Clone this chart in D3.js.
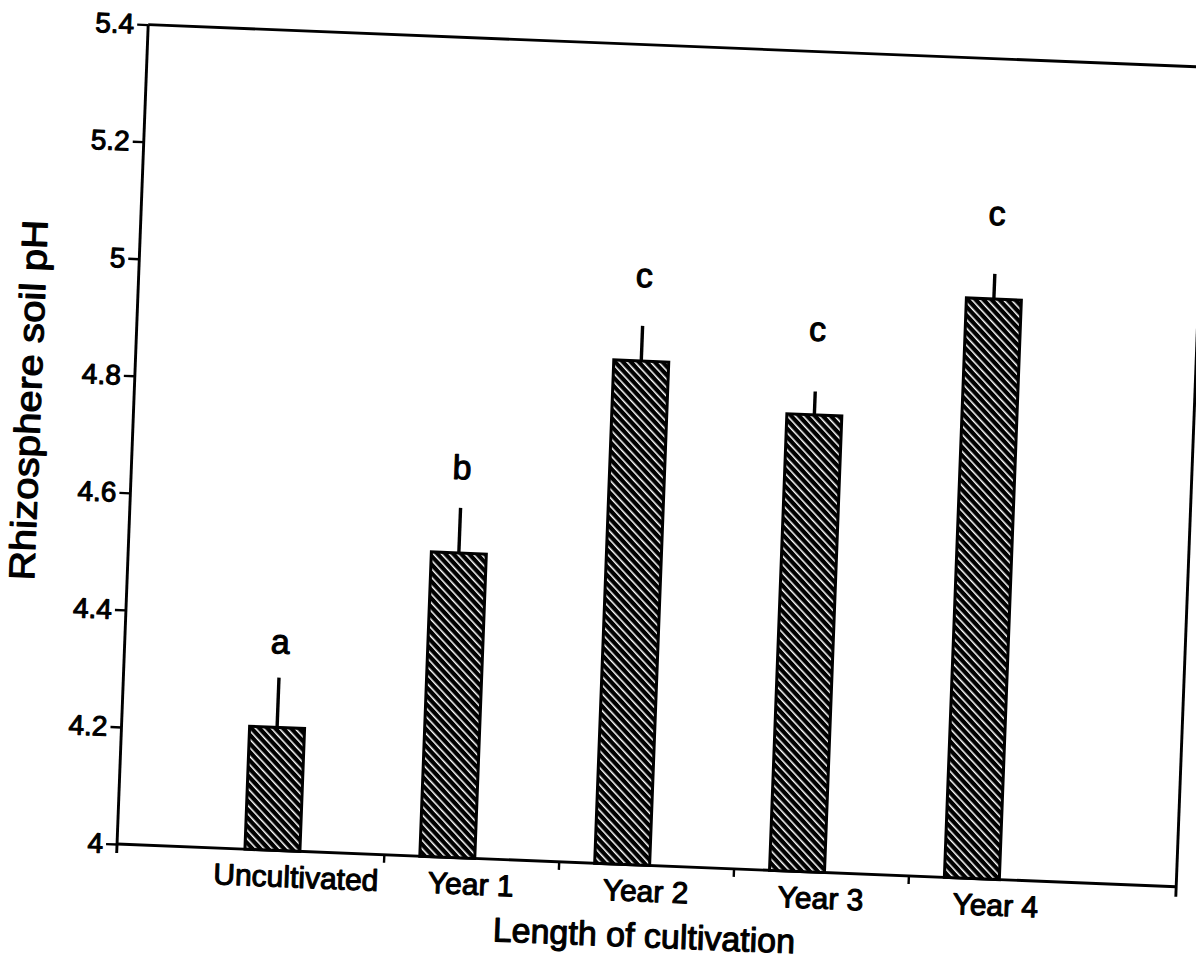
<!DOCTYPE html>
<html>
<head>
<meta charset="utf-8">
<script src="https://cdn.jsdelivr.net/npm/d3@7"></script>
<style>
  body { margin: 0; background: #fff; }
  svg { display: block; }
  text { font-family: "Liberation Sans", Arial, Helvetica, sans-serif; fill: #000; }
</style>
</head>
<body>
<svg id="chart" width="1196" height="962"></svg>
<script>
// Rhizosphere soil pH by length of cultivation (mean + SE, letters = significance groups)
const categories = ["Uncultivated", "Year 1", "Year 2", "Year 3", "Year 4"];
const meanPH = [4.21, 4.52, 4.86, 4.78, 4.99];
const sePH = [0.085, 0.077, 0.06, 0.04, 0.043];
const groupLetters = ["a", "b", "c", "c", "c"];
const yTickValues = [4, 4.2, 4.4, 4.6, 4.8, 5, 5.2, 5.4];

const W = 1060, H = 820;           // plot area in local units
const svg = d3.select("#chart");

// hatch fill: black with thin white diagonal stripes
const defs = svg.append("defs");
const pat = defs.append("pattern")
  .attr("id", "hatch")
  .attr("patternUnits", "userSpaceOnUse")
  .attr("width", 5.8).attr("height", 5.8)
  .attr("patternTransform", "rotate(-45)");
pat.append("rect").attr("width", 5.8).attr("height", 5.8).attr("fill", "#000");
pat.append("rect").attr("width", 1.5).attr("height", 5.8).attr("fill", "#fff");

// the printed page sits slightly tilted
const g = svg.append("g")
  .attr("transform", "matrix(0.99919,0.04026,-0.038,0.9993,148.2,24.6)");

const y = d3.scaleLinear().domain([4, 5.4]).range([H, 0]);
const x = d3.scaleBand().domain(categories).range([0, W])
  .paddingInner(0).paddingOuter(0.5286);
const bw = x.bandwidth();
const barW = 55;
const barCenter = c => x(c) + bw * 0.36;

const data = categories.map((c, i) => ({ c, m: meanPH[i], se: sePH[i], letter: groupLetters[i] }));

const inkText = sel => sel.attr("fill", "#000").attr("stroke", "#000")
  .attr("stroke-width", 1.1).attr("stroke-linejoin", "round")
  .style("font-family", "'Liberation Sans', Arial, sans-serif");

// frame
const frame = g.append("g").attr("stroke", "#000").attr("stroke-width", 2.9).attr("fill", "none");
frame.append("line").attr("x1", 0).attr("y1", 0).attr("x2", 0).attr("y2", H + 9);
frame.append("line").attr("x1", 0).attr("y1", H).attr("x2", W).attr("y2", H);
frame.append("line").attr("x1", 0).attr("y1", 0).attr("x2", W).attr("y2", 0);
frame.append("line").attr("x1", W).attr("y1", 0).attr("x2", W).attr("y2", H + 10);

// y axis
const yAxis = g.append("g")
  .call(d3.axisLeft(y).tickValues(yTickValues).tickFormat(d => String(d))
    .tickSize(11).tickPadding(3).tickSizeOuter(0));
yAxis.select(".domain").remove();
yAxis.selectAll("line").attr("stroke", "#000").attr("stroke-width", 2.4);
yAxis.selectAll("text").attr("font-size", 28).call(inkText);

// x axis: category names centred in each band
const xAxis = g.append("g").attr("transform", `translate(0,${H})`)
  .call(d3.axisBottom(x).tickSize(0).tickPadding(15));
xAxis.select(".domain").remove();
xAxis.selectAll("text").attr("font-size", 30).call(inkText);

// small ticks between categories
g.append("g").selectAll("line")
  .data(categories.slice(1))
  .join("line")
  .attr("x1", d => x(d)).attr("x2", d => x(d))
  .attr("y1", H).attr("y2", H + 8)
  .attr("stroke", "#000").attr("stroke-width", 2.4);

// bars
g.append("g").selectAll("rect")
  .data(data)
  .join("rect")
  .attr("x", d => barCenter(d.c) - barW / 2)
  .attr("y", d => y(d.m))
  .attr("width", barW)
  .attr("height", d => H - y(d.m))
  .attr("fill", "url(#hatch)")
  .attr("stroke", "#000").attr("stroke-width", 3);

// upper error bars
g.append("g").selectAll("line")
  .data(data)
  .join("line")
  .attr("x1", d => barCenter(d.c)).attr("x2", d => barCenter(d.c))
  .attr("y1", d => y(d.m)).attr("y2", d => y(d.m + d.se))
  .attr("stroke", "#000").attr("stroke-width", 3.4);

// significance letters
g.append("g").selectAll("text")
  .data(data)
  .join("text")
  .attr("x", d => barCenter(d.c))
  .attr("y", d => y(d.m) - 74)
  .attr("text-anchor", "middle")
  .attr("font-size", 34)
  .call(inkText)
  .text(d => d.letter);

// axis titles
g.append("text")
  .attr("x", W / 2).attr("y", H + 82)
  .attr("text-anchor", "middle")
  .attr("font-size", 34)
  .call(inkText)
  .text("Length of cultivation");

g.append("text")
  .attr("transform", `translate(-93,${H - 440}) rotate(-90) scale(1.12,1)`)
  .attr("text-anchor", "middle")
  .attr("font-size", 36)
  .call(inkText)
  .text("Rhizosphere soil pH");
</script>
</body>
</html>
